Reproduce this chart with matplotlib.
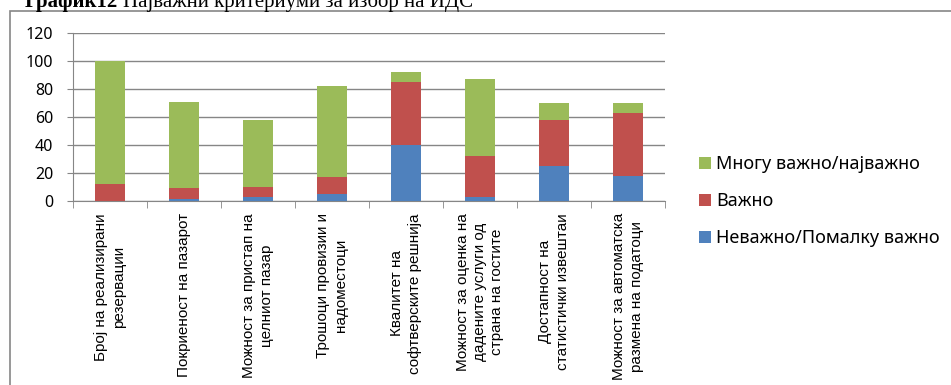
import numpy as np
import matplotlib.pyplot as plt
from matplotlib.patches import Rectangle

categories = ["Број на реализирани\nрезервации",
              "Покриеност на пазарот",
              "Можност за пристап на\nцелниот пазар",
              "Трошоци провизии и\nнадоместоци",
              "Квалитет на\nсофтверските решнија",
              "Можност за оценка на\nдадените услуги од\nстрана на гостите",
              "Достапност на\nстатистички извештаи",
              "Можност за автоматска\nразмена на податоци"]
neva = [0, 1, 3, 5, 40, 3, 25, 18]
vazno = [12, 8, 7, 12, 45, 29, 33, 45]
mnogu = [88, 62, 48, 65, 7, 55, 12, 7]
series_names = ["Неважно/Помалку важно", "Важно", "Многу важно/најважно"]

blue = "#4F81BD"
red = "#C0504D"
green = "#9BBB59"
gray = "#868686"

fig = plt.figure(figsize=(9.51, 3.85), dpi=100)
ax = fig.add_axes([73/951, 1-200.7/385, (665-73)/951, (200.7-33.3)/385])

x = np.arange(len(categories))
neva = np.array(neva)
vazno = np.array(vazno)
mnogu = np.array(mnogu)
b1 = ax.bar(x, neva, 0.4, color=blue, label=series_names[0], zorder=3)
b2 = ax.bar(x, vazno, 0.4, bottom=neva, color=red, label=series_names[1], zorder=3)
b3 = ax.bar(x, mnogu, 0.4, bottom=neva + vazno, color=green, label=series_names[2], zorder=3)

ax.set_xlim(-0.5, len(categories) - 0.5)
ax.set_ylim(0, 120)
ax.set_yticks(range(0, 121, 20))
ax.yaxis.grid(True, color=gray, linewidth=1, zorder=0)
for s in ["top", "right"]:
    ax.spines[s].set_visible(False)
ax.spines["left"].set_color(gray)
ax.spines["bottom"].set_color(gray)
ax.tick_params(axis="y", length=4.3, color=gray, labelsize=11.5, pad=10)
for t in ax.get_yticklabels():
    t.set_family(["Noto Sans", "DejaVu Sans"])

ax.set_xticks(x)
ax.set_xticklabels(categories, rotation=90, ha="center", va="top",
                   multialignment="center", fontsize=11, linespacing=1.3,
                   family=["Liberation Sans", "DejaVu Sans"])
ax.tick_params(axis="x", which="major", length=0, pad=9)
ax.set_xticks(np.arange(-0.5, len(categories), 1), minor=True)
ax.tick_params(axis="x", which="minor", length=5, color=gray)

handles = [b3, b2, b1]
leg = fig.legend(handles, [h.get_label() for h in handles],
                 loc="center left", bbox_to_anchor=(683/951, 1-201/385),
                 frameon=False, handlelength=0.65, handleheight=0.65,
                 handletextpad=0.3, labelspacing=1.05,
                 prop={"family": ["Noto Sans", "DejaVu Sans"], "size": 13})

# chart border (cut off at right and bottom in the original)
fig.patches.append(Rectangle((10/951, -0.1), 1.2, 1.1 - 11/385, transform=fig.transFigure,
                             fill=False, edgecolor=gray, linewidth=1.2))

fig.text(118/951, 1-7/385, "График12", fontweight="bold", fontsize=15,
         family="Liberation Serif", va="baseline", ha="right")
fig.text(123/951, 1-7/385, "Најважни критериуми за избор на ИДС", fontsize=15,
         family="Liberation Serif", va="baseline")

fig.savefig("out.png", dpi=100)
